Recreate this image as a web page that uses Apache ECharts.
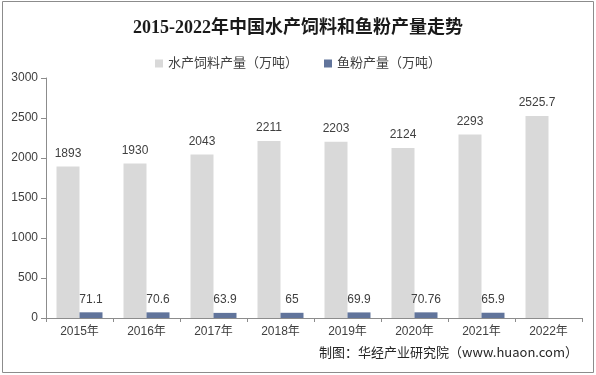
<html>
<head>
    <meta http-equiv="Content-Type" content="text/html; charset=utf-8" />
</head>
<script type="text/javascript" src="https://cdn.jsdelivr.net/npm/echarts@6/dist/echarts.min.js"></script>
<body style="margin:0">
<div id="main" style="width:596px;height:375px;"></div>
</body>
<script type="text/javascript">
    // 数据
    var years = ['2015年', '2016年', '2017年', '2018年', '2019年', '2020年', '2021年', '2022年'];
    var feed = [1893, 1930, 2043, 2211, 2203, 2124, 2293, 2525.7];
    var fishmeal = [71.1, 70.6, 63.9, 65, 69.9, 70.76, 65.9, null];

    var fontCn = "'Liberation Sans', 'Noto Sans CJK SC', sans-serif";

    var myChart = echarts.init(document.getElementById('main'));
    var option = {
        animation: false,
        backgroundColor: '#fff',
        textStyle: { fontFamily: fontCn },
        title: {
            text: '2015-2022年中国水产饲料和鱼粉产量走势',
            left: 'center',
            top: 14,
            textStyle: {
                fontFamily: "'Liberation Serif', 'Noto Sans CJK SC', serif",
                fontSize: 18,
                fontWeight: 'bold',
                color: '#1a1a1a'
            }
        },
        legend: {
            top: 52,
            left: 'center',
            itemWidth: 8,
            itemHeight: 8,
            itemGap: 26,
            icon: 'rect',
            textStyle: { fontSize: 13, color: '#404040', fontFamily: fontCn },
            data: ['水产饲料产量（万吨）', '鱼粉产量（万吨）']
        },
        grid: { left: 46, right: 14, top: 78, bottom: 57 },
        xAxis: {
            type: 'category',
            data: years,
            axisLine: { lineStyle: { color: '#8c8c8c' } },
            axisTick: { show: true, length: 4, lineStyle: { color: '#8c8c8c' } },
            axisLabel: { color: '#404040', fontSize: 12, margin: 8 }
        },
        yAxis: {
            type: 'value',
            min: 0,
            max: 3000,
            interval: 500,
            axisLine: { show: true, lineStyle: { color: '#8c8c8c' } },
            axisTick: { show: true, length: 5, lineStyle: { color: '#8c8c8c' } },
            splitLine: { show: false },
            axisLabel: {
                color: '#404040', fontSize: 12, margin: 8,
                formatter: function (v) { return String(v); }
            }
        },
        series: [
            {
                name: '水产饲料产量（万吨）',
                type: 'bar',
                data: feed,
                barWidth: 23,
                barGap: '0%',
                itemStyle: { color: '#d9d9d9' },
                label: { show: true, position: 'top', distance: 7, color: '#404040', fontSize: 12 }
            },
            {
                name: '鱼粉产量（万吨）',
                type: 'bar',
                data: fishmeal,
                barWidth: 23,
                itemStyle: { color: '#61749b' },
                label: { show: true, position: 'top', distance: 7, color: '#404040', fontSize: 12 }
            }
        ],
        graphic: [
            {
                type: 'rect',
                shape: { x: 2.5, y: 1.5, width: 591, height: 371 },
                style: { fill: 'none', stroke: '#8c8c8c', lineWidth: 1 },
                silent: true
            },
            {
                type: 'text',
                right: 18,
                top: 346,
                style: {
                    text: '制图：华经产业研究院（www.huaon.com）',
                    font: "13px 'Noto Sans CJK SC', sans-serif",
                    fill: '#262626'
                }
            }
        ]
    };
    myChart.setOption(option);
</script>
</html>
